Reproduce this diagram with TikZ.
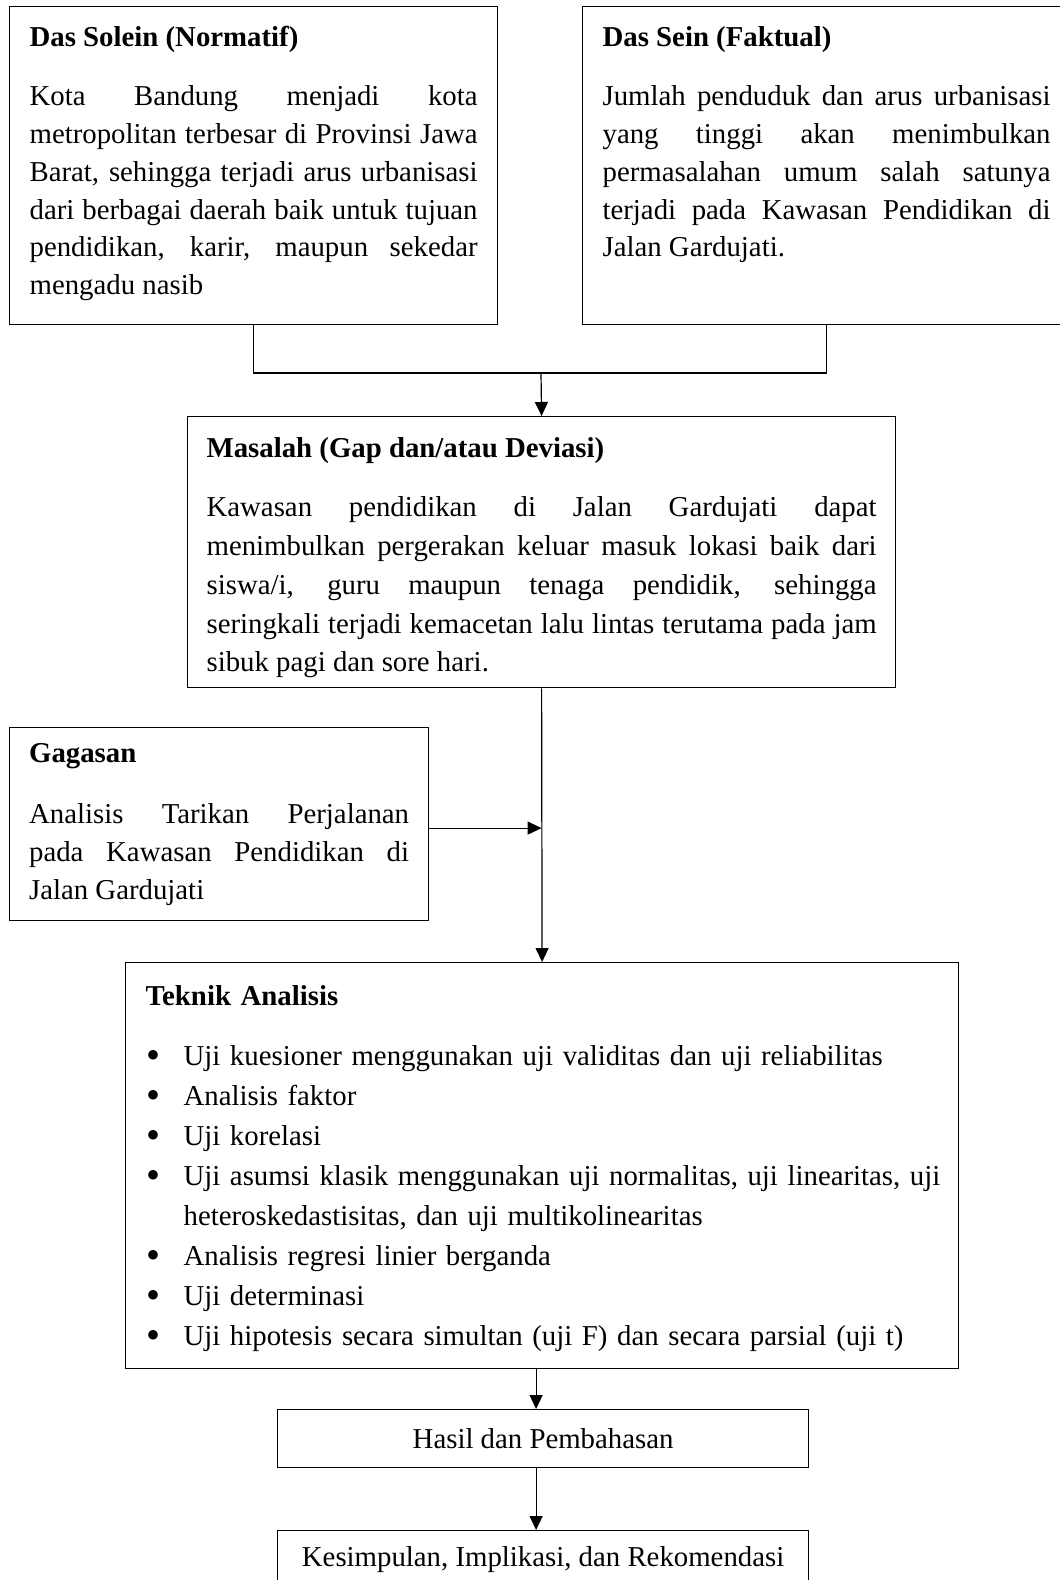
\documentclass[tikz,border=0pt]{standalone}
\usepackage{fontspec}
\setmainfont{Liberation Serif}
\usetikzlibrary{arrows.meta}
\setlength{\parindent}{0pt}
\tolerance=10000 \hbadness=10000 \hyphenpenalty=10000 \exhyphenpenalty=10000

\tikzstyle{every node}=[font=\fontsize{14.4}{18.9}\selectfont]
\tikzstyle{kotak}=[draw, line width=0.6pt, anchor=north west, inner xsep=10pt, inner ysep=0pt, align=justify]
\tikzstyle{ringkas}=[draw, line width=0.6pt, anchor=north west, minimum width=265.5pt, minimum height=29pt]
\tikzstyle{panah}=[line width=0.6pt, -{Triangle[length=7pt,width=6.5pt]}]

% heading: top strut, bold title, gap
\newcommand{\judul}[3]{\rule{0pt}{#1}\textbf{#3}\par\vspace{#2}}
% bottom strut
\newcommand{\ujung}[1]{\rule[-#1]{0pt}{0pt}}
\newcommand{\titik}{\raisebox{-1.6pt}{\fontsize{20}{20}\selectfont\textbullet}}

\begin{document}
\begin{tikzpicture}[x=0.5pt, y=-0.5pt]
    \useasboundingbox (0,0) rectangle (1060,1580);
    \clip (0,0) rectangle (1060,1580);
% Boxes
    \node[kotak, text width=224pt] (solein) at (9,6) {\judul{20pt}{10.6pt}{Das Solein (Normatif)}Kota Bandung menjadi kota\linebreak metropolitan terbesar di Provinsi Jawa\linebreak Barat, sehingga terjadi arus urbanisasi\linebreak dari berbagai daerah baik untuk tujuan\linebreak pendidikan, karir, maupun sekedar\linebreak mengadu nasib\ujung{15pt}};
    \node[kotak, text width=224pt] (sein) at (582,6) {\judul{20pt}{10.6pt}{Das Sein (Faktual)}Jumlah penduduk dan arus urbanisasi\linebreak yang tinggi akan menimbulkan\linebreak permasalahan umum salah satunya\linebreak terjadi pada Kawasan Pendidikan di\linebreak Jalan Gardujati.\ujung{33.9pt}};
    \node[kotak, text width=335pt, inner xsep=9.5pt, font=\fontsize{14.4}{19.4}\selectfont] (masalah) at (187,416) {\judul{20.5pt}{10.1pt}{Masalah (Gap dan/atau Deviasi)}Kawasan pendidikan di Jalan Gardujati dapat\linebreak menimbulkan pergerakan keluar masuk lokasi baik dari\linebreak siswa/i, guru maupun tenaga pendidik, sehingga\linebreak seringkali terjadi kemacetan lalu lintas terutama pada jam\linebreak sibuk pagi dan sore hari.\ujung{8pt}};
    \node[kotak, text width=190pt, inner xsep=9.75pt] (gagasan) at (9,727) {\judul{17.5pt}{11.6pt}{Gagasan}Analisis Tarikan Perjalanan\linebreak pada Kawasan Pendidikan di\linebreak Jalan Gardujati\ujung{10.7pt}};
    \node[kotak, text width=396.5pt, align=left, font=\fontsize{14.4}{20}\selectfont] (teknik) at (125,962) {\judul{21.5pt}{10pt}{Teknik Analisis}%
        \begin{list}{\titik}{\setlength{\leftmargin}{19pt}\setlength{\rightmargin}{-20pt}\setlength{\labelsep}{11.5pt}\setlength{\labelwidth}{10pt}%
            \setlength{\itemsep}{0pt}\setlength{\parsep}{0pt}\setlength{\topsep}{0pt}\setlength{\partopsep}{0pt}}
        \item Uji kuesioner menggunakan uji validitas dan uji reliabilitas
        \item Analisis faktor
        \item Uji korelasi
        \item Uji asumsi klasik menggunakan uji normalitas, uji linearitas, uji\newline heteroskedastisitas, dan uji multikolinearitas
        \item Analisis regresi linier berganda
        \item Uji determinasi
        \item Uji hipotesis secara simultan (uji F) dan secara parsial (uji t)\ujung{11.5pt}
        \end{list}};
    \node[ringkas] (bahas) at (277,1409) {Hasil dan Pembahasan};
    \node[ringkas] (simpul) at (277,1530) {Kesimpulan, Implikasi, dan Rekomendasi};
% Connectors
    \coordinate (temu) at (541,373);
    \draw[line width=0.6pt] (solein.south) |- (temu) -| (sein.south);
    \draw[panah] (temu) -- (masalah.north);
    \draw[panah] (masalah.south) -- (teknik.north);
    \draw[panah] ([yshift=-2pt]gagasan.east) -- ([yshift=-2pt]gagasan.east -| masalah.south);
    \draw[panah] ([xshift=-3.5pt]bahas.north |- teknik.south) -- ([xshift=-3.5pt]bahas.north);
    \draw[panah] ([xshift=-3.5pt]bahas.south) -- ([xshift=-3.5pt]simpul.north);
\end{tikzpicture}
\end{document}
